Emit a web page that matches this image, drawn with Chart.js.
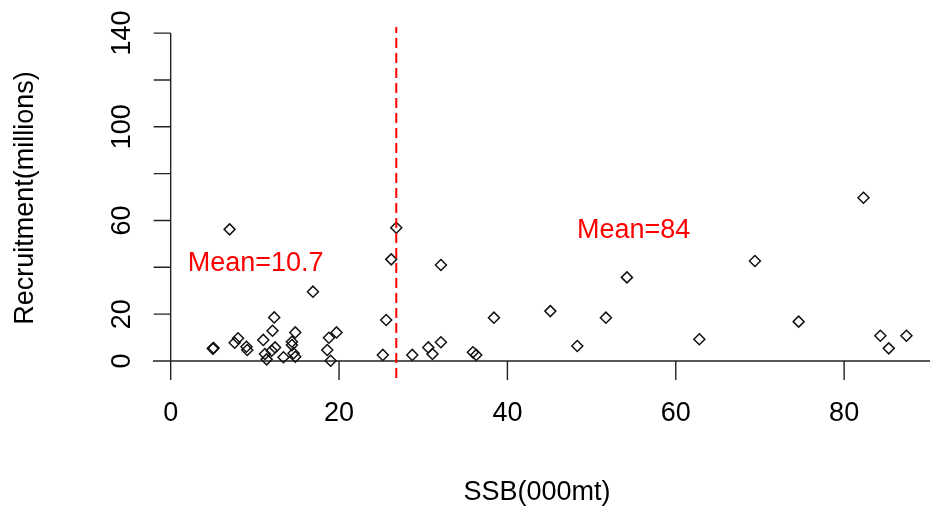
<!DOCTYPE html>
<html>
<head>
<meta charset="utf-8">
<script src="https://cdn.jsdelivr.net/npm/chart.js@4"></script>
<style>
  body { margin: 0; background: #fff; }
  canvas { display: block; }
</style>
</head>
<body>
<canvas id="chart" width="930" height="512"></canvas>
<script>
// dane
const ssb = [5.0, 5.1, 7.0, 7.6, 8.0, 9.0, 9.1, 11.0, 11.2, 11.4, 12.0, 12.4, 12.1, 12.3,
  13.4, 14.4, 14.4, 14.6, 14.8, 14.8, 16.9, 18.6, 18.8, 19.0, 19.7, 25.2, 25.6, 26.2,
  26.8, 28.7, 30.6, 31.1, 32.1, 32.1, 35.9, 36.3, 38.4, 45.1, 48.3, 51.7, 54.2, 62.8,
  69.4, 74.6, 82.3, 84.3, 85.3, 87.4];
const recruitment = [5.3, 5.5, 56.2, 7.8, 9.7, 6.1, 4.7, 9.0, 3.0, 0.7, 4.4, 5.8, 12.9, 18.6,
  1.6, 8.2, 6.8, 3.3, 1.8, 12.2, 29.6, 4.7, 9.9, 0.1, 12.2, 2.6, 17.5, 43.4,
  56.9, 2.6, 5.8, 3.0, 8.0, 41.0, 3.7, 2.6, 18.5, 21.3, 6.4, 18.5, 35.7, 9.3,
  42.7, 16.8, 69.7, 10.8, 5.4, 10.8];

const xTicks = [0, 20, 40, 60, 80];
const yTicks = [0, 20, 40, 60, 80, 100, 120, 140];
const yTickLabels = ['0', '20', '', '60', '', '100', '', '140'];
const xTitle = 'SSB(000mt)';
const yTitle = 'Recruitment(millions)';

const splitSSB = 26.8;
const meanLabels = ['Mean=10.7', 'Mean=84'];
const meanLabelX = [10.1, 55.0];
const meanLabelY = [41.8, 55.9];

const xMin = -2.1, xMax = 90.2;
const yMin = -7.26, yMax = 142.6;

const FONT = '27px "Liberation Sans", Arial, sans-serif';

const points = ssb.map((x, i) => ({ x: x, y: recruitment[i] }));

// osie w stylu R rysowane przez skale Chart.js
const rAxes = {
    id: 'rAxes',
    beforeDatasetsDraw(chart) {
        const ctx = chart.ctx;
        const xs = chart.scales.x, ys = chart.scales.y;
        const area = chart.chartArea;
        const x0 = xs.getPixelForValue(0);
        const y0 = ys.getPixelForValue(0);
        ctx.save();
        ctx.strokeStyle = '#222';
        ctx.lineWidth = 1.4;
        ctx.beginPath();
        // linia pozioma y=0
        ctx.moveTo(area.left, y0);
        ctx.lineTo(area.right, y0);
        // os pionowa
        ctx.moveTo(x0, ys.getPixelForValue(yTicks[yTicks.length - 1]));
        ctx.lineTo(x0, area.bottom);
        yTicks.forEach(v => {
            const py = ys.getPixelForValue(v);
            ctx.moveTo(x0, py);
            ctx.lineTo(x0 - 17, py);
        });
        xTicks.forEach(v => {
            const px = xs.getPixelForValue(v);
            ctx.moveTo(px, y0);
            ctx.lineTo(px, y0 + 19);
        });
        ctx.stroke();
        ctx.restore();
    },
    afterDraw(chart) {
        const ctx = chart.ctx;
        const xs = chart.scales.x, ys = chart.scales.y;
        const x0 = xs.getPixelForValue(0);
        ctx.save();
        ctx.font = FONT;
        ctx.fillStyle = '#000';
        ctx.textAlign = 'center';
        ctx.textBaseline = 'middle';
        xTicks.forEach(v => {
            ctx.fillText(String(v), xs.getPixelForValue(v), 414);
        });
        yTicks.forEach((v, i) => {
            if (!yTickLabels[i]) return;
            ctx.save();
            ctx.translate(x0 - 48, ys.getPixelForValue(v));
            ctx.rotate(-Math.PI / 2);
            ctx.fillText(yTickLabels[i], 0, 0);
            ctx.restore();
        });
        ctx.fillText(xTitle, 537, 493);
        ctx.save();
        ctx.translate(26, 198);
        ctx.rotate(-Math.PI / 2);
        ctx.fillText(yTitle, 0, 0);
        ctx.restore();

        ctx.fillStyle = '#ff0000';
        meanLabels.forEach((t, i) => {
            ctx.fillText(t, xs.getPixelForValue(meanLabelX[i]), ys.getPixelForValue(meanLabelY[i]));
        });
        ctx.restore();
    }
};

var ctx = document.getElementById('chart').getContext('2d');
var chart = new Chart(ctx, {
    type: 'scatter',
    data: {
        datasets: [{
            type: 'line',
            data: [{ x: splitSSB, y: yMin }, { x: splitSSB, y: yMax }],
            borderColor: '#ff0000',
            borderWidth: 2,
            borderDash: [10, 5],
            pointRadius: 0,
            fill: false
        }, {
            data: points,
            pointStyle: 'rectRot',
            pointRadius: 5.5,
            pointBorderWidth: 1.5,
            borderColor: '#111',
            backgroundColor: 'rgba(0,0,0,0)'
        }]
    },
    options: {
        responsive: false,
        animation: false,
        devicePixelRatio: 1,
        layout: {
            autoPadding: false,
            padding: { left: 153, right: 0, top: 27, bottom: 134 }
        },
        scales: {
            x: { type: 'linear', min: xMin, max: xMax, display: false },
            y: { type: 'linear', min: yMin, max: yMax, display: false }
        },
        plugins: {
            legend: { display: false },
            tooltip: { enabled: false }
        }
    },
    plugins: [rAxes]
});
</script>
</body>
</html>
